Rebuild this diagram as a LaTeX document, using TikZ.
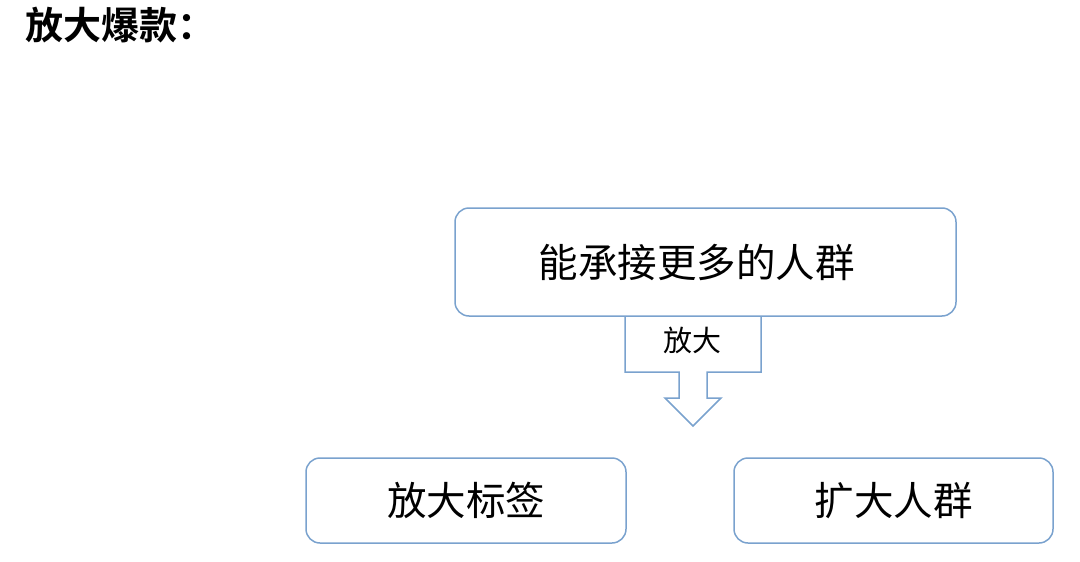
\documentclass[tikz,border=0pt]{standalone}
\usepackage{fontspec}
\setmainfont{Noto Sans CJK SC}[BoldFont={Noto Sans CJK SC Bold}]
\usetikzlibrary{calc,positioning}
\definecolor{boxblue}{RGB}{122,162,206}

\begin{document}
\begin{tikzpicture}[x=1pt,y=-1pt]

\tikzset{roundbox/.style={draw=boxblue,line width=1.5pt,rounded corners=14pt,inner sep=0pt,font=\fontsize{39.5}{44}\selectfont},
callout/.style={draw=boxblue,line width=1.5pt,line join=miter}}

\useasboundingbox (0,0) rectangle (1080,562);

% Title
\node[anchor=west,inner sep=0pt] (title) at (25,25) {\fontsize{38}{42}\selectfont\bfseries 放大爆款：};

% boxes
\node[roundbox,minimum width=501pt,minimum height=108pt] (crowd) at (705.5,262) {能承接更多的人群\hspace*{18pt}};
\node[roundbox,minimum width=320pt,minimum height=85pt] (tags) at (466,500.5) {放大标签};
\node[roundbox,minimum width=319pt,minimum height=85pt] (widen) at (893.5,500.5) {扩大人群};

% Callout arrow
\node[inner sep=0pt,font=\fontsize{29}{32}\selectfont] (amp) at (692,340) {放大};
\draw[callout] ($(amp)+(-67,-24)$) -- ($(amp)+(-67,32)$) -- ($(amp)+(-13,32)$) -- ($(amp)+(-13,58)$) -- ($(amp)+(-27,58)$)
  -- ($(amp)+(1,86)$) -- ($(amp)+(29,58)$) -- ($(amp)+(15,58)$) -- ($(amp)+(15,32)$) -- ($(amp)+(69,32)$) -- ($(amp)+(69,-24)$);

\end{tikzpicture}
\end{document}
